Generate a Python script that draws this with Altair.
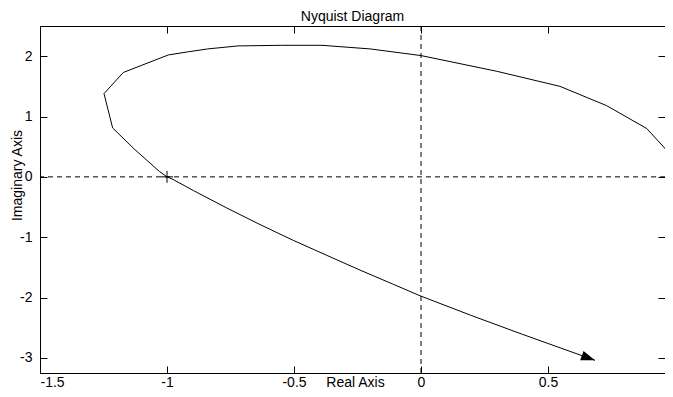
import altair as alt
import pandas as pd

# Nyquist curve, drawn in order
curve_x = [0.99, 0.987, 0.974, 0.889, 0.731, 0.547, 0.298, 0.0, -0.2, -0.39, -0.55,
           -0.72, -0.84, -0.92, -0.995, -1.172, -1.248, -1.214, -1.126, -1.03, -1.0,
           -0.975, -0.896, -0.765, -0.634, -0.503, -0.371, -0.24, -0.109, -0.004,
           0.2, 0.4, 0.685]
curve_y = [0.03, 0.12, 0.41, 0.80, 1.18, 1.50, 1.75, 2.01, 2.12, 2.18, 2.18,
           2.17, 2.12, 2.07, 2.02, 1.73, 1.38, 0.81, 0.45, 0.09, 0.0,
           -0.045, -0.227, -0.515, -0.79, -1.052, -1.30, -1.545, -1.78, -1.97,
           -2.30, -2.61, -3.04]

# critical point -1 + 0j
crit_x = [-1.0]
crit_y = [0.0]

x_ticks = [-1.5, -1, -0.5, 0, 0.5]
y_ticks = [-3, -2, -1, 0, 1, 2]
x_domain = [-1.5, 0.9606]
y_domain = [-3.25, 2.5]

FONT = "Liberation Sans"

df = pd.DataFrame({"x": curve_x, "y": curve_y, "order": list(range(len(curve_x)))})
df_end = df.tail(1)
df_crit = pd.DataFrame({"x": crit_x, "y": crit_y})


def xs():
    return alt.Scale(domain=x_domain, nice=False, zero=False)


def ys():
    return alt.Scale(domain=y_domain, nice=False, zero=False)


x_axis = alt.Axis(orient="bottom", offset=-7, tickSize=7, domain=False, grid=False,
                  values=x_ticks, labelExpr="'' + datum.value", labelFont=FONT,
                  labelFontSize=14, labelColor="black", labelBaseline="alphabetic",
                  labelPadding=13, tickColor="black", title="Real Axis",
                  titleFont=FONT, titleFontSize=14, titleFontWeight="normal",
                  titleColor="black", titleX=315, titleY=20,
                  titleBaseline="alphabetic", titleAlign="center")
y_axis = alt.Axis(orient="left", offset=-7, tickSize=7, domain=False, grid=False,
                  values=y_ticks, labelExpr="'' + datum.value", labelFont=FONT,
                  labelFontSize=14, labelColor="black", labelPadding=8,
                  tickColor="black", title="Imaginary Axis", titleFont=FONT,
                  titleFontSize=14, titleFontWeight="normal", titleColor="black",
                  titleX=-26, titleY=149, titleBaseline="alphabetic",
                  titleAlign="center", titleAngle=270)

line = alt.Chart(df).mark_line(color="black", strokeWidth=1, clip=True).encode(
    x=alt.X("x:Q", scale=xs(), axis=x_axis),
    y=alt.Y("y:Q", scale=ys(), axis=y_axis),
    order="order:Q",
)

vrule = alt.Chart(df_crit).mark_rule(color="black", strokeWidth=1, strokeDash=[5, 4]).encode(
    x=alt.datum(0)
)
hrule = alt.Chart(df_crit).mark_rule(color="black", strokeWidth=1, strokeDash=[5, 4]).encode(
    y=alt.datum(0)
)

cross = alt.Chart(df_crit).mark_point(
    shape="M-1,0L1,0M0,-1L0,1", size=144, filled=False, color="black", strokeWidth=1, opacity=1
).encode(x="x:Q", y="y:Q")

arrow = alt.Chart(df_end).mark_point(
    shape="M0,0L-2,-0.7L-2,0.7Z", size=196, filled=True, color="black", angle=20, opacity=1
).encode(x="x:Q", y="y:Q")

main = alt.layer(line, vrule, hrule, cross, arrow)

# mirrored inward ticks on top and right
mirror = alt.Chart(df_crit).mark_point(opacity=0).encode(
    x=alt.X("x:Q", scale=xs(), axis=alt.Axis(orient="top", offset=-7, tickSize=7, domain=False,
                                              grid=False, labels=False, values=x_ticks,
                                              tickColor="black", title=None)),
    y=alt.Y("y:Q", scale=ys(), axis=alt.Axis(orient="right", offset=-7, tickSize=7, domain=False,
                                              grid=False, labels=False, values=y_ticks,
                                              tickColor="black", title=None)),
)

# box lines: left, bottom, top (right edge lies outside the picture)
frame_lb = alt.Chart(df_crit).mark_point(opacity=0).encode(
    x=alt.X("x:Q", scale=xs(), axis=alt.Axis(orient="bottom", domain=True, domainColor="black",
                                              ticks=False, labels=False, grid=False, title=None)),
    y=alt.Y("y:Q", scale=ys(), axis=alt.Axis(orient="left", domain=True, domainColor="black",
                                              ticks=False, labels=False, grid=False, title=None)),
)
frame_t = alt.Chart(df_crit).mark_point(opacity=0).encode(
    x=alt.X("x:Q", scale=xs(), axis=alt.Axis(orient="top", domain=True, domainColor="black",
                                              ticks=False, labels=False, grid=False, title=None)),
    y=alt.Y("y:Q", scale=ys(), axis=None),
)

chart = alt.layer(main, mirror, frame_lb, frame_t).resolve_scale(
    x="independent", y="independent"
).properties(
    width=625,
    height=347,
    title=alt.TitleParams("Nyquist Diagram", font=FONT, fontSize=14, fontWeight="normal",
                          color="black", anchor="middle", offset=2),
    autosize=alt.AutoSizeParams(type="none"),
    padding={"left": 32, "top": 18, "right": 0, "bottom": 16},
).configure_view(stroke=None).configure(background="white")

chart.save("out.html", embed_options={"renderer": "svg", "actions": False})
